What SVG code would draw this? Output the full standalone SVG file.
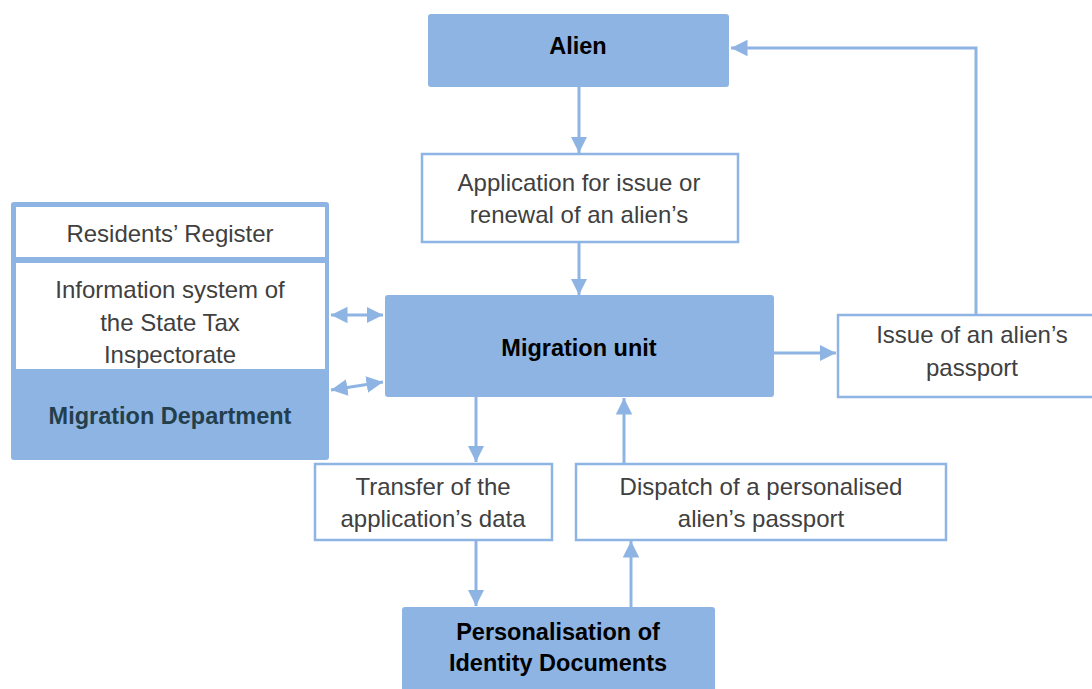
<svg xmlns="http://www.w3.org/2000/svg" width="1092" height="689" viewBox="0 0 1092 689">
<defs>
<style>
.fill{fill:#8EB4E3;}
.box{fill:#FFFFFF;stroke:#8EB4E3;stroke-width:2.5;}
.t{font-family:"Liberation Sans",Arial,sans-serif;font-size:24px;fill:#404040;text-anchor:middle;}
.b{font-family:"Liberation Sans",Arial,sans-serif;font-size:23.5px;font-weight:bold;fill:#000000;text-anchor:middle;}
.line{stroke:#8EB4E3;stroke-width:3;fill:none;}
</style>
<marker id="ah" viewBox="0 0 10 10" refX="10" refY="5" markerWidth="5.5" markerHeight="5.5" orient="auto-start-reverse" markerUnits="strokeWidth">
<path d="M0,0 L10,5 L0,10 z" fill="#8EB4E3"/>
</marker>
</defs>
<rect width="1092" height="689" fill="#FFFFFF"/>
<g id="connectors">
<line class="line" x1="579" y1="87" x2="579" y2="153" marker-end="url(#ah)"/>
<line class="line" x1="579" y1="242" x2="579" y2="295" marker-end="url(#ah)"/>
<line class="line" x1="331" y1="315" x2="383" y2="315" marker-start="url(#ah)" marker-end="url(#ah)"/>
<line class="line" x1="331" y1="390" x2="383" y2="382" marker-start="url(#ah)" marker-end="url(#ah)"/>
<line class="line" x1="774" y1="353" x2="836" y2="353" marker-end="url(#ah)"/>
<polyline class="line" points="976,314 976,48 731,48" marker-end="url(#ah)"/>
<line class="line" x1="476" y1="397" x2="476" y2="462" marker-end="url(#ah)"/>
<line class="line" x1="476" y1="540" x2="476" y2="606" marker-end="url(#ah)"/>
<line class="line" x1="631" y1="607" x2="631" y2="541" marker-end="url(#ah)"/>
<line class="line" x1="624" y1="463" x2="624" y2="398" marker-end="url(#ah)"/>
</g>
<g id="alien">
<rect class="fill" x="428" y="14" width="301" height="73" rx="3"/>
<text class="b" x="578" y="54">Alien</text>
</g>
<g id="application">
<rect class="box" x="422" y="154" width="316" height="88"/>
<text class="t" x="579" y="191">Application for issue or</text>
<text class="t" x="579" y="223">renewal of an alien’s</text>
</g>
<g id="migration-unit">
<rect class="fill" x="385" y="295" width="389" height="102" rx="3"/>
<text class="b" x="579" y="356">Migration unit</text>
</g>
<g id="migration-department">
<rect class="fill" x="11" y="202" width="318" height="258" rx="3"/>
<rect x="16" y="207" width="309" height="50" fill="#FFFFFF"/>
<rect x="16" y="263" width="309" height="106" fill="#FFFFFF"/>
<text class="t" x="170" y="242">Residents’ Register</text>
<text class="t" x="170" y="298">Information system of</text>
<text class="t" x="170" y="331">the State Tax</text>
<text class="t" x="170" y="363">Inspectorate</text>
<text class="b" x="170" y="424" style="fill:#243F4C">Migration Department</text>
</g>
<g id="issue">
<rect class="box" x="838" y="315" width="260" height="82"/>
<text class="t" x="972" y="343">Issue of an alien’s</text>
<text class="t" x="972" y="376">passport</text>
</g>
<g id="transfer">
<rect class="box" x="315" y="464" width="237" height="76"/>
<text class="t" x="433" y="495">Transfer of the</text>
<text class="t" x="433" y="527">application’s data</text>
</g>
<g id="dispatch">
<rect class="box" x="576" y="464" width="370" height="76"/>
<text class="t" x="761" y="495">Dispatch of a personalised</text>
<text class="t" x="761" y="527">alien’s passport</text>
</g>
<g id="personalisation">
<rect class="fill" x="402" y="607" width="313" height="90" rx="3"/>
<text class="b" x="558" y="640">Personalisation of</text>
<text class="b" x="558" y="671">Identity Documents</text>
<text class="b" x="558" y="708">Centre</text>
</g>
</svg>
